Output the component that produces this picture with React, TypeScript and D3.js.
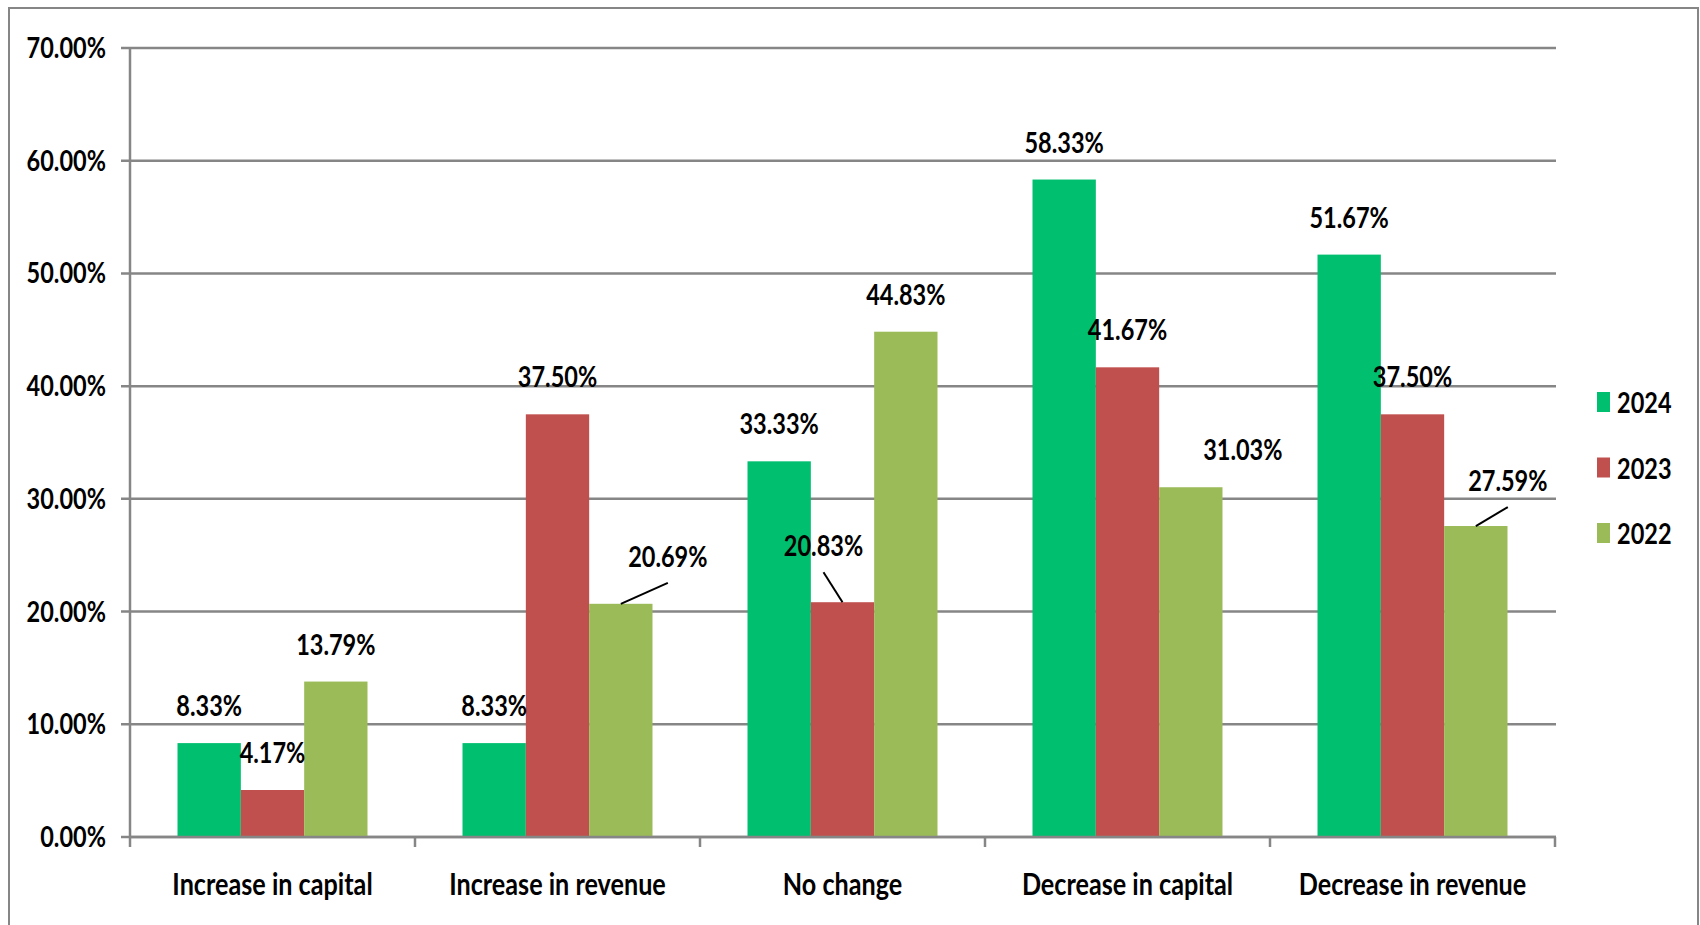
import React from "react";
import * as d3 from "d3";

const categories = [
  "Increase in capital",
  "Increase in revenue",
  "No change",
  "Decrease in capital",
  "Decrease in revenue",
];
const seriesNames = ["2024", "2023", "2022"];
const values2024 = [8.33, 8.33, 33.33, 58.33, 51.67];
const values2023 = [4.17, 37.5, 20.83, 41.67, 37.5];
const values2022 = [13.79, 20.69, 44.83, 31.03, 27.59];
const yTicks = [0, 10, 20, 30, 40, 50, 60, 70];

const seriesValues = [values2024, values2023, values2022];
const colors = ["#00BF6F", "#C0504D", "#9BBB59"];

// manual label nudges (pixel offsets), as in the source chart
const labelNudges = [
  { s: 2, c: 1, dx: 47, dy: -10, leader: true },
  { s: 1, c: 2, dx: -19, dy: -19, leader: true },
  { s: 2, c: 4, dx: 32, dy: -8, leader: true },
  { s: 2, c: 3, dx: 52, dy: 0, leader: false },
];

const W = 1700;
const H = 925;
const SX = 0.84;
const FONT = "Lato, 'Open Sans', sans-serif";
const GRID = "#868686";

function T({ x, y, anchor = "middle", size = 28, children }: any) {
  return (
    <text
      transform={`translate(${x},${y}) scale(${SX},1)`}
      textAnchor={anchor}
      fontFamily={FONT}
      fontWeight={700}
      fontSize={size}
      fill="#000"
    >
      {children}
    </text>
  );
}

export default function App() {
  const x = d3.scaleBand<string>().domain(categories).range([130, 1555]);
  const xs = d3
    .scaleBand<string>()
    .domain(seriesNames)
    .range([0, x.bandwidth()])
    .paddingOuter(0.75);
  const y = d3.scaleLinear().domain([0, 70]).range([837, 48]);
  const bounds = [...categories.map((c) => x(c)!), 1555];

  const bars: any[] = [];
  const labels: any[] = [];
  seriesValues.forEach((vals, s) => {
    vals.forEach((v, c) => {
      const bx = x(categories[c])! + xs(seriesNames[s])!;
      const bw = xs.bandwidth();
      const top = y(v);
      bars.push(
        <rect
          key={`b${s}-${c}`}
          x={bx}
          y={top}
          width={bw}
          height={y(0) - top}
          fill={colors[s]}
        />
      );
      const cx = bx + bw / 2;
      const nudge = labelNudges.find((n) => n.s === s && n.c === c);
      const lx = cx + (nudge ? nudge.dx : 0);
      const ly = top - 27 + (nudge ? nudge.dy : 0);
      if (nudge && nudge.leader) {
        labels.push(
          <line
            key={`l${s}-${c}`}
            x1={cx}
            y1={top}
            x2={lx}
            y2={ly + 16}
            stroke="#000"
            strokeWidth={2}
          />
        );
      }
      labels.push(
        <T key={`t${s}-${c}`} x={lx} y={ly}>
          {v.toFixed(2)}%
        </T>
      );
    });
  });

  return (
    <svg
      width={W}
      height={H}
      style={{ position: "absolute", left: 0, top: 0, background: "#fff" }}
    >
      <rect x={0} y={0} width={W} height={H} fill="#fff" />
      <rect
        x={9}
        y={8}
        width={1689}
        height={1000}
        fill="none"
        stroke={GRID}
        strokeWidth={2}
      />
      {yTicks.map((t) => (
        <g key={t}>
          <line
            x1={121}
            x2={1556}
            y1={y(t)}
            y2={y(t)}
            stroke={GRID}
            strokeWidth={2.5}
          />
          <T x={106} y={y(t) + 10} anchor="end">
            {t.toFixed(2)}%
          </T>
        </g>
      ))}
      <line x1={130} x2={130} y1={y(70)} y2={y(0)} stroke={GRID} strokeWidth={2.5} />
      {bounds.map((b, i) => (
        <line
          key={i}
          x1={b}
          x2={b}
          y1={y(0)}
          y2={y(0) + 10}
          stroke={GRID}
          strokeWidth={2.5}
        />
      ))}
      {bars}
      <line x1={130} x2={1556} y1={y(0)} y2={y(0)} stroke={GRID} strokeWidth={2.5} />
      {labels}
      {categories.map((c) => (
        <T key={c} x={x(c)! + x.bandwidth() / 2} y={895} size={30}>
          {c}
        </T>
      ))}
      {seriesNames.map((n, i) => (
        <g key={n}>
          <rect x={1597} y={392 + i * 65.5} width={13} height={20} fill={colors[i]} />
          <T x={1617} y={413 + i * 65.5} anchor="start">
            {n}
          </T>
        </g>
      ))}
    </svg>
  );
}
